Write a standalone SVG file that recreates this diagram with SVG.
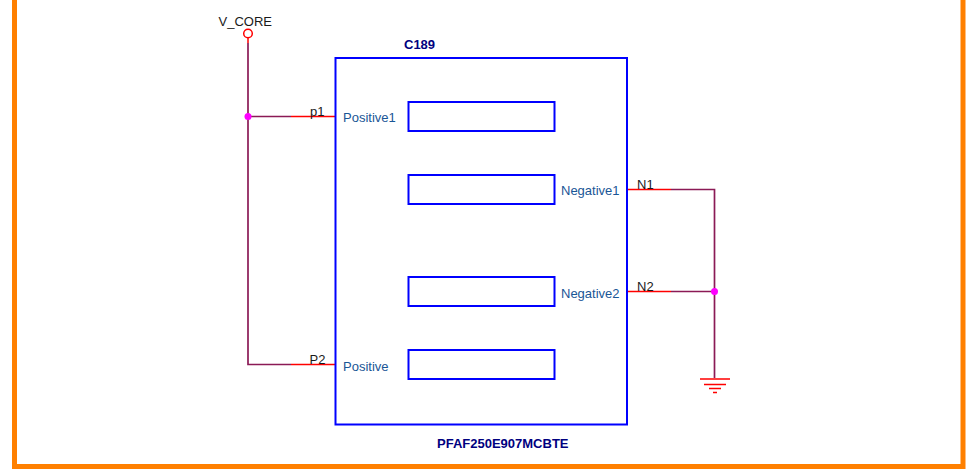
<svg xmlns="http://www.w3.org/2000/svg" width="966" height="469" viewBox="0 0 966 469">
<style>
text{font-family:"Liberation Sans",Arial,sans-serif;font-size:13px}
.net{fill:#1a1a1a}
.pin{fill:#1a5696}
.ref{fill:#000080;font-weight:bold}
.box{fill:#fff;stroke:#0000ff;stroke-width:2}
.wire{fill:none;stroke:#8b1a56;stroke-width:1.7}
.stub{fill:none;stroke:#ff0000;stroke-width:1.5}
.dot{fill:#ff00ff}
</style>
<rect width="966" height="469" fill="#fff"/>
<path d="M14.500 -5V466.500H963V-5" fill="none" stroke="#ff8000" stroke-width="5"/>
<g id="connectors">
<path class="wire" d="M248 43V364.500H291"/>
<path class="wire" d="M248 116.500H291"/>
<path class="stub" d="M291 116.500H335"/>
<path class="stub" d="M291 364.500H335"/>
<path class="stub" d="M248 38V43"/>
<path class="stub" d="M627 189.500H671"/>
<path class="stub" d="M627 291.500H671"/>
<path class="wire" d="M671 189.500H714.500V378"/>
<path class="wire" d="M671 291.500H714.500"/>
</g>
<g id="C189">
<rect class="box" x="335.500" y="58" width="291.500" height="366.500"/>
<rect class="box" x="408.500" y="102" width="146" height="29"/>
<rect class="box" x="408.500" y="175" width="146" height="29"/>
<rect class="box" x="408.500" y="277" width="146" height="29"/>
<rect class="box" x="408.500" y="350" width="146" height="29"/>
<text class="ref" x="404" y="49">C189</text>
<text class="ref" x="437" y="448">PFAF250E907MCBTE</text>
<text class="pin" x="343" y="122">Positive1</text>
<text class="pin" x="343" y="371">Positive</text>
<text class="pin" x="561" y="195">Negative1</text>
<text class="pin" x="561" y="298">Negative2</text>
</g>
<g id="V_CORE">
<circle cx="248" cy="33.500" r="4.300" fill="#fff" stroke="#ff0000" stroke-width="1.500"/>
<text class="net" x="218.500" y="26">V_CORE</text>
</g>
<g id="junction-p1"><circle class="dot" cx="248" cy="116.500" r="3.500"/></g>
<g id="junction-n2"><circle class="dot" cx="714.500" cy="291.500" r="3.500"/></g>
<g id="GND">
<path class="stub" d="M700 379H730M704 384.500H726M709 388.500H721M713 392.500H717"/>
</g>
<g id="net-labels">
<text class="net" x="310" y="116">p1</text>
<text class="net" x="309.500" y="364">P2</text>
<text class="net" x="637" y="189">N1</text>
<text class="net" x="637" y="291">N2</text>
</g>
</svg>
